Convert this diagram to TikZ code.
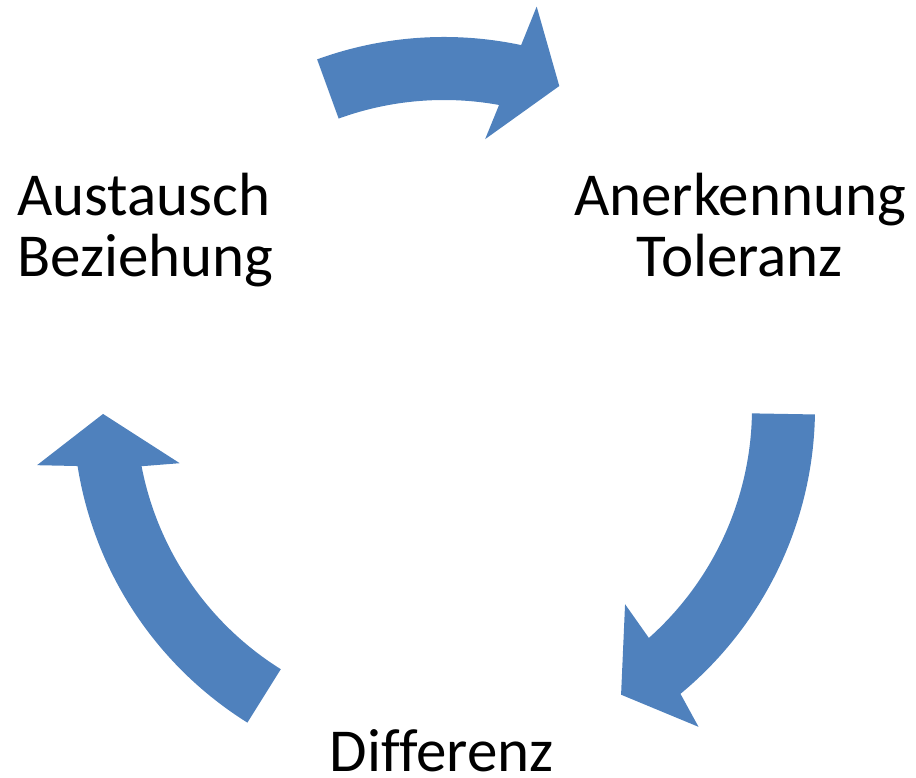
\documentclass[tikz,border=0pt]{standalone}
\usepackage{fontspec}
\setmainfont{Carlito}[Ligatures=NoCommon]
\definecolor{arrowblue}{HTML}{4F81BD}
\begin{document}
\begin{tikzpicture}[x=1pt,y=1pt,
  cyc/.style={fill=arrowblue, draw=none},
  lbl/.style={inner sep=0pt, font=\fontsize{61}{61}\selectfont}]
\useasboundingbox (0,0) rectangle (916,778);
\coordinate (C) at (444,370);
% top arrow
\fill[cyc] ([shift={(110:371)}]C) arc[start angle=110, end angle=78, radius=371]
  -- ([shift={(77:412)}]C) -- ([shift={(70.3:342)}]C) -- ([shift={(81.3:272)}]C)
  -- ([shift={(79.7:308)}]C) arc[start angle=79.7, end angle=110, radius=308] -- cycle;
% right arrow
\fill[cyc] ([shift={(-1:371)}]C) arc[start angle=-1, end angle=-50.4, radius=371]
  -- ([shift={(-51.4:408)}]C) -- ([shift={(-58.3:337)}]C) -- ([shift={(-47.3:267)}]C)
  -- ([shift={(-48.3:308)}]C) arc[start angle=-48.3, end angle=-1, radius=308] -- cycle;
% left arrow
\fill[cyc] ([shift={(238:371)}]C) arc[start angle=238, end angle=189, radius=371]
  -- ([shift={(188:411)}]C) -- ([shift={(181:341)}]C) -- ([shift={(191.8:270)}]C)
  -- ([shift={(190.9:308)}]C) arc[start angle=190.9, end angle=238, radius=308] -- cycle;
% labels
\node[lbl, anchor=base west, align=left] (aus) at (17,501) {Austausch\\Beziehung};
\node[lbl, anchor=base, align=center] (ane) at (740,501) {Anerkennung\\Toleranz};
\node[lbl, anchor=base] (dif) at (441.5,6.5) {Differenz};
\end{tikzpicture}
\end{document}
